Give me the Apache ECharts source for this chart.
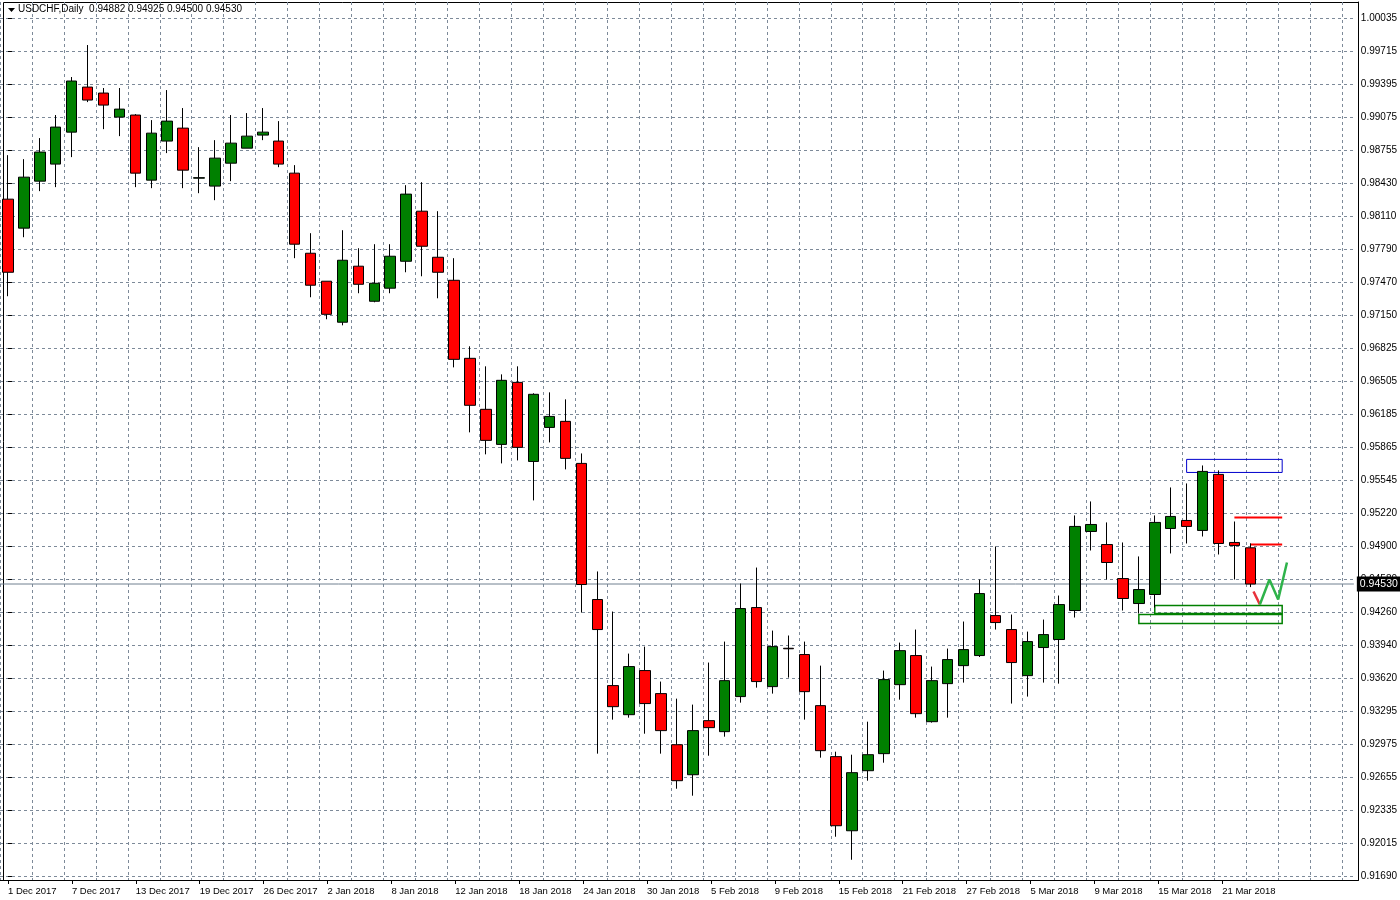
<!DOCTYPE html>
<html><head><meta charset="utf-8">
<script src="https://cdn.jsdelivr.net/npm/echarts@6/dist/echarts.min.js"></script>
<style>html,body{margin:0;padding:0;background:#fff}#c{width:1400px;height:900px}</style>
</head><body><div id="c"></div>
<script>
const dates = ['1 Dec 2017','4 Dec 2017','5 Dec 2017','6 Dec 2017','7 Dec 2017','8 Dec 2017','11 Dec 2017','12 Dec 2017','13 Dec 2017','14 Dec 2017','15 Dec 2017','18 Dec 2017','19 Dec 2017','20 Dec 2017','21 Dec 2017','22 Dec 2017','26 Dec 2017','27 Dec 2017','28 Dec 2017','29 Dec 2017',
'2 Jan 2018','3 Jan 2018','4 Jan 2018','5 Jan 2018','8 Jan 2018','9 Jan 2018','10 Jan 2018','11 Jan 2018','12 Jan 2018','15 Jan 2018','16 Jan 2018','17 Jan 2018','18 Jan 2018','19 Jan 2018','22 Jan 2018','23 Jan 2018','24 Jan 2018','25 Jan 2018','26 Jan 2018','29 Jan 2018','30 Jan 2018','31 Jan 2018',
'1 Feb 2018','2 Feb 2018','5 Feb 2018','6 Feb 2018','7 Feb 2018','8 Feb 2018','9 Feb 2018','12 Feb 2018','13 Feb 2018','14 Feb 2018','15 Feb 2018','16 Feb 2018','19 Feb 2018','20 Feb 2018','21 Feb 2018','22 Feb 2018','23 Feb 2018','26 Feb 2018','27 Feb 2018','28 Feb 2018',
'1 Mar 2018','2 Mar 2018','5 Mar 2018','6 Mar 2018','7 Mar 2018','8 Mar 2018','9 Mar 2018','12 Mar 2018','13 Mar 2018','14 Mar 2018','15 Mar 2018','16 Mar 2018','19 Mar 2018','20 Mar 2018','21 Mar 2018','22 Mar 2018','23 Mar 2018'];
const labelDates = ['1 Dec 2017','7 Dec 2017','13 Dec 2017','19 Dec 2017','26 Dec 2017','2 Jan 2018','8 Jan 2018','12 Jan 2018','18 Jan 2018','24 Jan 2018','30 Jan 2018','5 Feb 2018','9 Feb 2018','15 Feb 2018','21 Feb 2018','27 Feb 2018','5 Mar 2018','9 Mar 2018','15 Mar 2018','21 Mar 2018'];
// [open, close, low, high]
const ohlc = [
[0.98273,0.97562,0.97329,0.98701],[0.97991,0.98487,0.97903,0.98662],[0.98448,0.98731,0.98351,0.98867],[0.98614,0.98974,0.98390,0.99091],[0.98925,0.99422,0.98682,0.99461],
[0.99363,0.99237,0.99217,0.99772],[0.99305,0.99188,0.98954,0.99354],[0.99071,0.99149,0.98886,0.99354],[0.99091,0.98526,0.98390,0.99100],[0.98458,0.98915,0.98380,0.99042],
[0.98838,0.99032,0.98721,0.99334],[0.98964,0.98555,0.98380,0.99159],[0.98477,0.98482,0.98331,0.98779],[0.98400,0.98672,0.98263,0.98847],[0.98623,0.98818,0.98448,0.99091],
[0.98769,0.98886,0.98769,0.99110],[0.98896,0.98925,0.98847,0.99159],[0.98838,0.98614,0.98584,0.99032],[0.98526,0.97835,0.97699,0.98604],[0.97747,0.97436,0.97319,0.97942],
[0.97475,0.97153,0.97105,0.97475],[0.97076,0.97679,0.97046,0.97971],[0.97621,0.97445,0.97358,0.97796],[0.97280,0.97455,0.97270,0.97835],[0.97407,0.97718,0.97358,0.97835],
[0.97669,0.98322,0.97562,0.98409],[0.98156,0.97815,0.97523,0.98438],[0.97708,0.97562,0.97309,0.98156],[0.97484,0.96715,0.96637,0.97699],[0.96725,0.96268,0.96005,0.96842],
[0.96229,0.95927,0.95791,0.96647],[0.95888,0.96511,0.95703,0.96569],[0.96491,0.95859,0.95732,0.96647],[0.95722,0.96375,0.95343,0.96385],[0.96053,0.96160,0.95907,0.96394],
[0.96112,0.95752,0.95645,0.96326],[0.95703,0.94525,0.94252,0.95800],[0.94379,0.94087,0.92880,0.94652],[0.93542,0.93337,0.93211,0.94262],[0.93259,0.93727,0.93230,0.93853],
[0.93688,0.93367,0.93074,0.93921],[0.93464,0.93104,0.92880,0.93581],[0.92967,0.92617,0.92539,0.93415],[0.92675,0.93104,0.92471,0.93357],[0.93201,0.93133,0.92860,0.93766],
[0.93094,0.93590,0.93045,0.93970],[0.93435,0.94291,0.93376,0.94535],[0.94301,0.93581,0.93522,0.94690],[0.93532,0.93921,0.93464,0.94077],[0.93905,0.93900,0.93620,0.94029],
[0.93844,0.93483,0.93211,0.93970],[0.93347,0.92909,0.92841,0.93736],[0.92851,0.92179,0.92072,0.92899],[0.92130,0.92695,0.91848,0.92870],[0.92714,0.92870,0.92617,0.93191],
[0.92880,0.93600,0.92792,0.93688],[0.93551,0.93882,0.93405,0.93960],[0.93834,0.93269,0.93230,0.94087],[0.93191,0.93590,0.93182,0.93727],[0.93561,0.93795,0.93230,0.93902],
[0.93736,0.93892,0.93571,0.94165],[0.93834,0.94437,0.93820,0.94574],[0.94223,0.94155,0.94087,0.94895],[0.94087,0.93766,0.93367,0.94233],[0.93639,0.93970,0.93435,0.94067],
[0.93912,0.94038,0.93571,0.94184],[0.93990,0.94330,0.93561,0.94418],[0.94272,0.95090,0.94204,0.95197],[0.95041,0.95109,0.94856,0.95333],[0.94914,0.94739,0.94574,0.95129],
[0.94583,0.94389,0.94272,0.94934],[0.94340,0.94476,0.94243,0.94798],[0.94428,0.95129,0.94301,0.95197],[0.95070,0.95187,0.94827,0.95469],[0.95148,0.95090,0.94924,0.95508],
[0.95051,0.95625,0.94992,0.95683],[0.95596,0.94924,0.94817,0.95635],[0.94934,0.94904,0.94574,0.95138],[0.94882,0.94530,0.94500,0.94925]
];
const yTickLabels = ['0.91690','0.92015','0.92335','0.92655','0.92975','0.93295','0.93620','0.93940','0.94260','0.94580','0.94900','0.95220','0.95545','0.95865','0.96185','0.96505','0.96825','0.97150','0.97470','0.97790','0.98110','0.98430','0.98755','0.99075','0.99395','0.99715','1.00035'];
const currentPrice = 0.94530;
// overlays: [x index, price]
const blueBox = [[74,0.95742],[80,0.95615]];
const greenBoxUpper = [[72,0.94321],[80,0.94243]];
const greenBoxLower = [[71,0.94233],[80,0.94145]];
const redLineUpper = [[77,0.95177],[80,0.95177]];
const redLineLower = [[78,0.94914],[80,0.94914]];
const redZig = [[78.2,0.94457],[78.6,0.94330]];
const greenZig = [[78.6,0.94330],[79.2,0.94574],[79.75,0.94379],[80.3,0.94739]];

const N = 85;
const cats = dates.concat(Array(N - dates.length).fill(''));
const yMin = 0.91690, yMax = 1.00035, yInt = (yMax - yMin) / 26;
const FONT = 'Liberation Sans';
const gridLine = {show:true, lineStyle:{color:'#7d8a99', type:[3,3], width:1}};

const chart = echarts.init(document.getElementById('c'));
chart.setOption({
  animation:false,
  backgroundColor:'#ffffff',
  grid:[
    {left:-5, width:1363, top:2, bottom:20},
    {left:-5, width:1363, top:18, bottom:24}
  ],
  xAxis:[
    {type:'category', gridIndex:0, data:cats, boundaryGap:true,
     axisLine:{lineStyle:{color:'#000'}},
     axisTick:{show:true, alignWithLabel:true, interval:(i)=>i%4===0 && i<dates.length, lineStyle:{color:'#000'}, length:4},
     axisLabel:{interval:(i,v)=>labelDates.indexOf(v)>=0, align:'left', margin:6, fontSize:9.5, fontFamily:FONT, color:'#000'},
     splitLine:{show:true, interval:(i)=>i%2===0, lineStyle:{color:'#7d8a99', type:[3,3]}}},
    {type:'category', gridIndex:1, data:cats, boundaryGap:true, show:false},
    {type:'value', gridIndex:1, min:-0.5, max:N-0.5, show:false}
  ],
  yAxis:[
    {type:'value', gridIndex:0, position:'right', min:0, max:1,
     axisLine:{show:true, lineStyle:{color:'#000'}}, axisTick:{show:false}, axisLabel:{show:false}, splitLine:{show:false}},
    {type:'value', gridIndex:1, position:'right', min:yMin, max:yMax, interval:yInt, scale:true,
     axisLine:{show:false}, axisTick:{show:true, length:4, lineStyle:{color:'#000'}},
     axisLabel:{margin:7, fontSize:10, fontFamily:FONT, color:'#000',
       formatter:(v)=>yTickLabels[Math.round((v - yMin)/yInt)] || ''},
     splitLine:gridLine}
  ],
  graphic:[
    {type:'rect', shape:{x:3.5, y:2.5, width:1355, height:878}, style:{fill:null, stroke:'#000', lineWidth:1}, z:0, silent:true},
    {type:'polygon', shape:{points:[[8,8],[15,8],[11.5,12]]}, style:{fill:'#000'}, z:10},
    {type:'text', left:18, top:4, style:{text:'USDCHF,Daily  0.94882 0.94925 0.94500 0.94530', font:'10px "Liberation Sans"', fill:'#000'}, z:10}
  ],
  series:[
    {type:'line', xAxisIndex:2, yAxisIndex:1, data:[[-0.5,currentPrice],[N-0.5,currentPrice]], symbol:'none', silent:true, z:1,
     lineStyle:{color:'#708090', width:1},
     endLabel:{show:true, formatter:currentPrice.toFixed(5), backgroundColor:'#000', color:'#fff', fontSize:10.5, fontFamily:FONT, padding:[2,3,2,3], distance:3}},
    {type:'candlestick', xAxisIndex:1, yAxisIndex:1, data:ohlc, barWidth:11, z:3,
     itemStyle:{color:'#008000', color0:'#ff0000', borderColor:'#000', borderColor0:'#000', borderWidth:1}},
    {type:'line', xAxisIndex:2, yAxisIndex:1, data:[],
     markArea:{silent:true, data:[
       [{coord:blueBox[0], itemStyle:{color:'rgba(0,0,0,0)', borderColor:'#0000cc', borderWidth:1}},{coord:blueBox[1]}],
       [{coord:greenBoxUpper[0], itemStyle:{color:'rgba(0,0,0,0)', borderColor:'#008000', borderWidth:1.5}},{coord:greenBoxUpper[1]}],
       [{coord:greenBoxLower[0], itemStyle:{color:'rgba(0,0,0,0)', borderColor:'#008000', borderWidth:1.5}},{coord:greenBoxLower[1]}]
     ]}},
    {type:'line', xAxisIndex:2, yAxisIndex:1, data:redLineUpper, symbol:'none', lineStyle:{color:'#ff0000', width:2}},
    {type:'line', xAxisIndex:2, yAxisIndex:1, data:redLineLower, symbol:'none', lineStyle:{color:'#ff0000', width:2}},
    {type:'line', xAxisIndex:2, yAxisIndex:1, data:redZig, symbol:'none', lineStyle:{color:'#e8303a', width:2.5}},
    {type:'line', xAxisIndex:2, yAxisIndex:1, data:greenZig, symbol:'none', lineStyle:{color:'#2fb34b', width:2.5}}
  ]
});
</script></body></html>
